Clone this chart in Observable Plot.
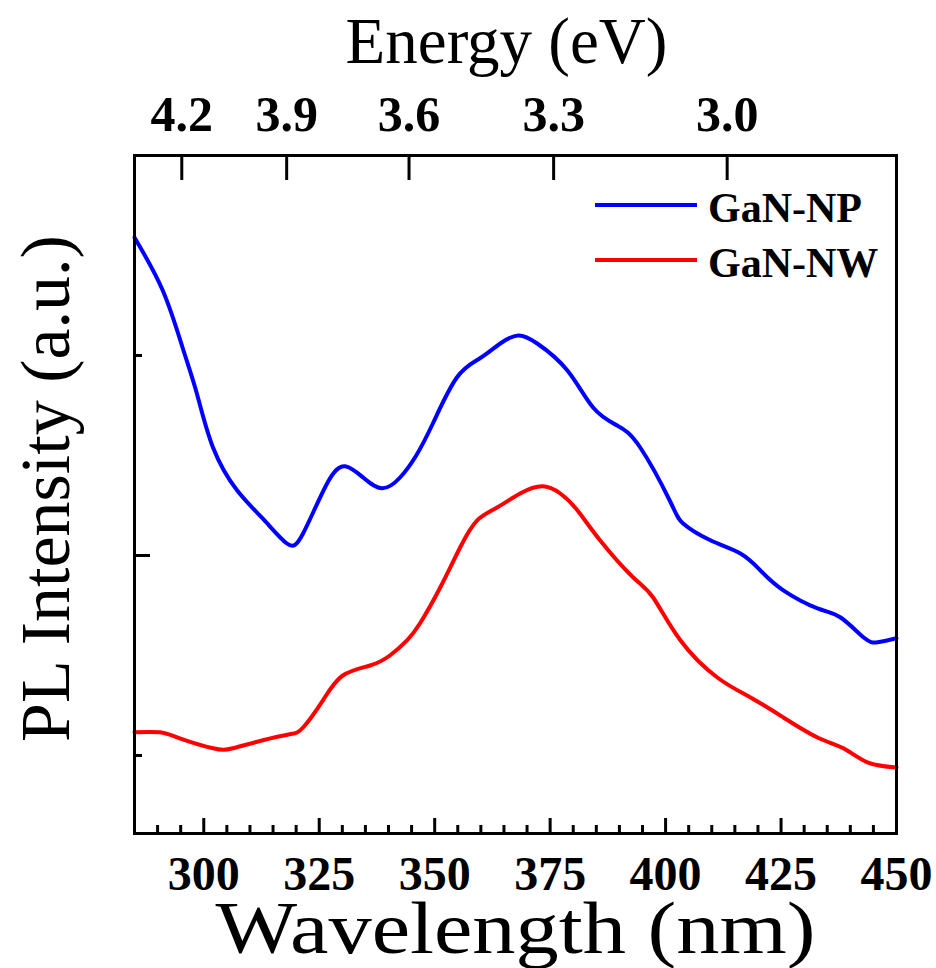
<!DOCTYPE html>
<html><head><meta charset="utf-8">
<script src="https://cdn.jsdelivr.net/npm/d3@7"></script>
<script src="https://cdn.jsdelivr.net/npm/@observablehq/plot@0.6"></script>
<style>
body{margin:0;background:#fff;}
#wrap{position:relative;width:936px;height:968px;font-family:"Liberation Serif","Times New Roman",serif;}
.legline{position:absolute;left:595px;width:102px;height:4px;}
.legtext{position:absolute;left:708px;font-size:42px;font-weight:bold;line-height:42px;white-space:nowrap;color:#000;}
</style></head><body>
<div id="wrap">
  <div class="legline" style="top:203px;background:#0000ff"></div>
  <div class="legtext" style="top:187px">GaN-NP</div>
  <div class="legline" style="top:258px;background:#ff0000"></div>
  <div class="legtext" style="top:242px">GaN-NW</div>
</div>
<script>
// GaN-NP (blue)
const npWavelength = [285.0, 291.1, 295.4, 298.5, 302.0, 307.2, 312.8, 318.0, 321.5, 326.7, 330.6, 334.5, 338.6, 342.5, 346.0, 349.6, 354.8, 359.8, 364.2, 368.1, 372.2, 378.7, 384.3, 389.5, 394.5, 401.0, 403.8, 409.7, 416.2, 420.5, 425.5, 432.9, 437.9, 442.9, 445.9, 450.0];
const npIntensity  = [1.795, 1.663, 1.520, 1.405, 1.270, 1.163, 1.092, 1.030, 1.055, 1.180, 1.223, 1.195, 1.168, 1.195, 1.250, 1.330, 1.445, 1.493, 1.530, 1.550, 1.530, 1.463, 1.370, 1.325, 1.270, 1.135, 1.080, 1.038, 1.005, 0.963, 0.913, 0.868, 0.845, 0.795, 0.783, 0.793];
// GaN-NW (red)
const nwWavelength = [285.0, 290.5, 294.8, 302.0, 306.3, 312.8, 318.6, 321.5, 325.8, 330.1, 336.0, 340.3, 344.0, 346.8, 351.2, 355.5, 359.2, 363.5, 368.5, 373.3, 377.2, 380.9, 385.8, 393.0, 397.3, 403.2, 411.2, 418.4, 425.5, 432.9, 438.5, 443.7, 450.0];
const nwIntensity  = [0.558, 0.558, 0.543, 0.518, 0.518, 0.538, 0.553, 0.570, 0.638, 0.700, 0.725, 0.750, 0.788, 0.830, 0.920, 1.020, 1.088, 1.120, 1.155, 1.173, 1.155, 1.113, 1.038, 0.945, 0.895, 0.788, 0.695, 0.645, 0.595, 0.545, 0.518, 0.483, 0.470];

// axis ticks
const wlMajor = [300, 325, 350, 375, 400, 425, 450];
const wlMinor = [290, 295, 305, 310, 315, 320, 330, 335, 340, 345, 355, 360, 365, 370, 380, 385, 390, 395, 405, 410, 415, 420, 430, 435, 440, 445];
const energyTicks = [4.2, 3.9, 3.6, 3.3, 3.0];
const yMajor = [1.0];
const yMinor = [0.5, 1.5];

const np = npWavelength.map((w, i) => ({w, v: npIntensity[i]}));
const nw = nwWavelength.map((w, i) => ({w, v: nwIntensity[i]}));
const energyPos = energyTicks.map(e => 1240 / e);

const font = "Liberation Serif, Times New Roman, serif";

const chart = Plot.plot({
  width: 936,
  height: 968,
  marginLeft: 134,
  marginRight: 40,
  marginTop: 155,
  marginBottom: 135,
  style: {fontFamily: font, background: "#fff", color: "#000"},
  x: {domain: [285, 450]},
  y: {domain: [0.305, 2.0]},
  marks: [
    Plot.line(np, {x: "w", y: "v", stroke: "#0000ff", strokeWidth: 4, curve: "natural"}),
    Plot.line(nw, {x: "w", y: "v", stroke: "#ff0000", strokeWidth: 4, curve: "natural"}),
    Plot.axisX(wlMajor, {anchor: "bottom", tickSize: -15, tickPadding: 37, strokeWidth: 3, fontSize: 48, fontWeight: "bold", label: null}),
    Plot.axisX(wlMinor, {anchor: "bottom", tickSize: -8, strokeWidth: 3, tickFormat: () => "", label: null}),
    Plot.axisX(energyPos, {anchor: "top", tickSize: -24, tickPadding: 49, strokeWidth: 3, fontSize: 50, fontWeight: "bold", label: null,
      tickFormat: d => (1240 / d).toFixed(1)}),
    Plot.axisY(yMajor, {anchor: "left", tickSize: -16, strokeWidth: 3, tickFormat: () => "", label: null}),
    Plot.axisY(yMinor, {anchor: "left", tickSize: -8, strokeWidth: 3, tickFormat: () => "", label: null}),
    Plot.frame({stroke: "#000", strokeWidth: 3}),
    Plot.text(["Energy (eV)"], {frameAnchor: "top", textAnchor: "middle", dx: -9, dy: -139, fontSize: 65, fill: "#000"}),
    Plot.text(["Wavelength (nm)"], {frameAnchor: "bottom", textAnchor: "middle", dx: 0, dy: 119, fontSize: 74, fill: "#000"}),
    Plot.text(["PL Intensity (a.u.)"], {frameAnchor: "left", textAnchor: "middle", dx: -88, dy: -6, rotate: -90, fontSize: 70, fill: "#000"})
  ]
});
// stretch the x-axis title horizontally like the reference
d3.select(chart).selectAll("text").filter(function() { return this.textContent === "Wavelength (nm)"; })
  .attr("textLength", 600).attr("lengthAdjust", "spacingAndGlyphs");
document.getElementById("wrap").prepend(chart);
chart.style.position = "absolute";
chart.style.left = "0";
chart.style.top = "0";
</script>
</body></html>
